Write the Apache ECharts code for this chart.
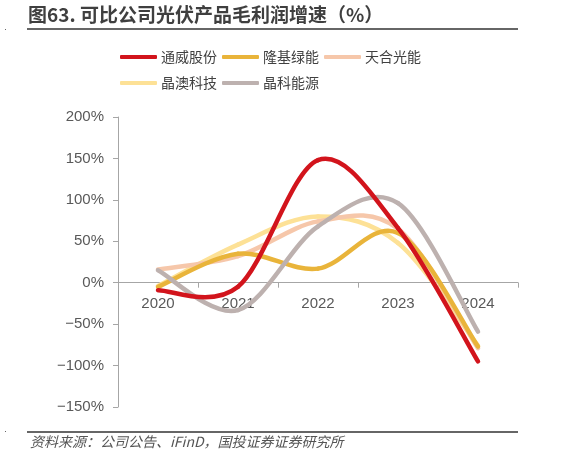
<!DOCTYPE html>
<html><head><meta charset="utf-8">
<script src="https://cdn.jsdelivr.net/npm/echarts@6/dist/echarts.min.js"></script>
<style>html,body{margin:0;padding:0;background:#fff;}#c{width:565px;height:457px;}</style>
</head><body><div id="c"></div>
<script>
var categories = ['2020','2021','2022','2023','2024'];
var tongwei = [-9, -5, 148, 66, -95];
var longi = [-5, 35, 17, 60, -77];
var trina = [16, 32, 74, 65, -79];
var jaSolar = [-4, 46, 80, 48, -76];
var jinko = [15, -33, 68, 96, -59];
var seriesNames = ['通威股份','隆基绿能','天合光能','晶澳科技','晶科能源'];
var yTicks = [-150,-100,-50,0,50,100,150,200];

var colors = ['#D2141C','#E9B43A','#F6C7AA','#FDE196','#BDB1AF'];
var dataList = [tongwei, longi, trina, jaSolar, jinko];
var zs = [5, 4, 3, 2, 4];
var chart = echarts.init(document.getElementById('c'));
var font = '"Liberation Sans", Arial, "Noto Sans CJK SC", sans-serif';
var cjk = '"Noto Sans CJK SC", sans-serif';

function makeRender(arr, color) {
  return function (params, api) {
    var i = params.dataIndex, n = arr.length;
    if (i >= n - 1) return null;
    function P(k) { k = Math.max(0, Math.min(n - 1, k)); return api.coord([k, arr[k]]); }
    var p0 = P(i - 1), p1 = P(i), p2 = P(i + 1), p3 = P(i + 2);
    var t = 6;
    return {
      type: 'bezierCurve',
      shape: {
        x1: p1[0], y1: p1[1], x2: p2[0], y2: p2[1],
        cpx1: p1[0] + (p2[0] - p0[0]) / t, cpy1: p1[1] + (p2[1] - p0[1]) / t,
        cpx2: p2[0] - (p3[0] - p1[0]) / t, cpy2: p2[1] - (p3[1] - p1[1]) / t
      },
      style: {stroke: color, lineWidth: 4.5, fill: null, lineCap: 'round'}
    };
  };
}

var legendCommon = {
  itemWidth: 37, itemHeight: 4, itemGap: 5, padding: 0,
  icon: 'roundRect',
  textStyle: {fontSize: 14, color: '#404040', fontFamily: cjk, padding: [0, 0, 0, -1]}
};

chart.setOption({
  animation: false,
  color: colors,
  title: {
    text: '图63. 可比公司光伏产品毛利润增速（%）',
    left: 28, top: 5, padding: 0,
    textStyle: {fontSize: 19, fontWeight: 'bold', color: '#3f3f3f', fontFamily: cjk}
  },
  graphic: [
    {type: 'line', shape: {x1: 27, y1: 29, x2: 518, y2: 29}, style: {stroke: '#333', lineWidth: 1.5}},
    {type: 'line', shape: {x1: 27, y1: 432, x2: 518, y2: 432}, style: {stroke: '#333', lineWidth: 1.5}},
    {type: 'rect', shape: {x: 5, y: 29, width: 1, height: 1}, style: {fill: '#666'}},
    {type: 'rect', shape: {x: 5, y: 431, width: 1, height: 1}, style: {fill: '#666'}},
    {type: 'text', left: 30, top: 435, style: {text: '资料来源：公司公告、iFinD，国投证券证券研究所', fill: '#555', font: 'italic 14px "Noto Sans CJK SC", sans-serif'}}
  ],
  legend: [
    Object.assign({left: 120, top: 50, data: seriesNames.slice(0, 3).map(function (nm, k) { return {name: nm, itemStyle: {color: colors[k]}}; })}, legendCommon),
    Object.assign({left: 120, top: 76, data: seriesNames.slice(3).map(function (nm, k) { return {name: nm, itemStyle: {color: colors[k + 3]}}; })}, legendCommon)
  ],
  grid: {left: 118, right: 47, top: 117, bottom: 50},
  xAxis: {
    type: 'category', data: categories, boundaryGap: true,
    offset: -124.3,
    axisLine: {onZero: false, lineStyle: {color: '#a6a6a6', width: 1}},
    axisTick: {show: true, length: 5, lineStyle: {color: '#a6a6a6'}},
    axisLabel: {fontSize: 15, color: '#595959', margin: 14, fontFamily: font}
  },
  yAxis: {
    type: 'value', min: -150, max: 200, interval: 50,
    axisLine: {show: true, lineStyle: {color: '#a6a6a6', width: 1}},
    axisTick: {show: true, length: 5, lineStyle: {color: '#a6a6a6'}},
    splitLine: {show: false},
    axisLabel: {fontSize: 15, color: '#595959', margin: 14, fontFamily: font,
      formatter: function (v) { return (v < 0 ? '\u2212' + Math.abs(v) : v) + '%'; }}
  },
  series: dataList.map(function (d, i) {
    return {
      name: seriesNames[i], type: 'custom',
      data: d.map(function (v, k) { return [k, v]; }),
      encode: {x: 0, y: 1},
      renderItem: makeRender(d, colors[i]),
      itemStyle: {color: colors[i]},
      z: zs[i]
    };
  })
});
</script></body></html>
